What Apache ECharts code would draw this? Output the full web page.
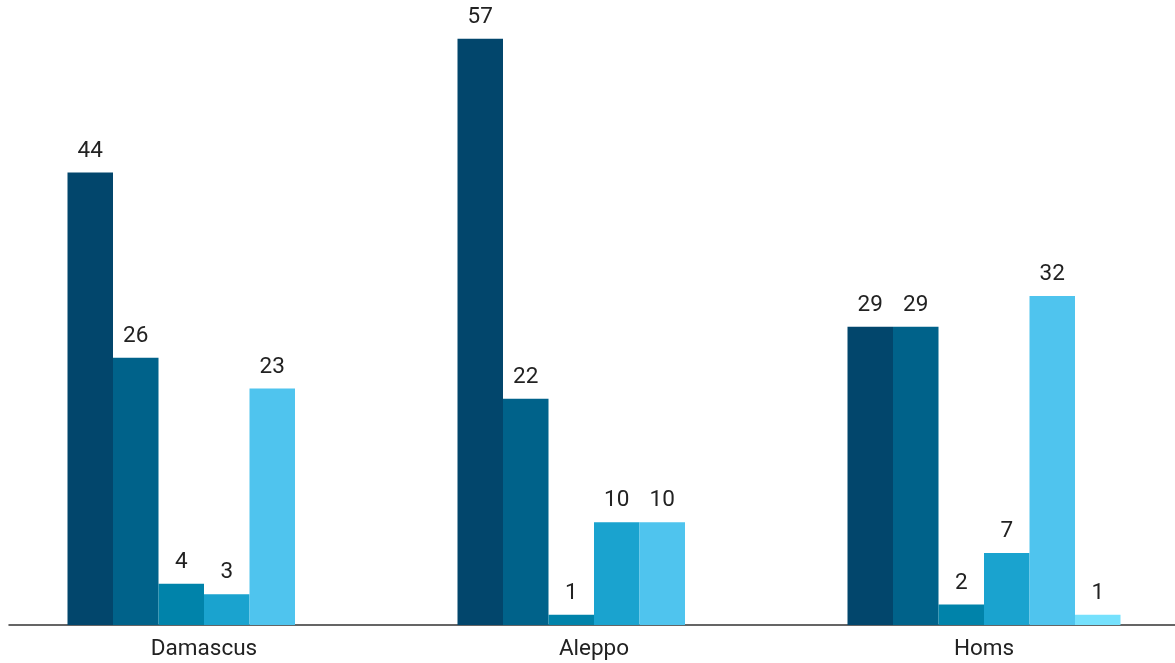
<!DOCTYPE html>
<html><head><meta charset="utf-8">
<script src="https://cdn.jsdelivr.net/npm/echarts@6/dist/echarts.min.js"></script>
<style>html,body{margin:0;padding:0;background:#fff}#c{width:1175px;height:663px}</style>
</head><body><div id="c"></div>
<script>
const categories = ['Damascus', 'Aleppo', 'Homs'];
const s1 = [44, 57, 29];
const s2 = [26, 22, 29];
const s3 = [4, 1, 2];
const s4 = [3, 10, 7];
const s5 = [23, 10, 32];
const s6 = [null, null, 1];
const seriesData = [s1, s2, s3, s4, s5, s6];
const colors = ['#02466c', '#00628a', '#0083aa', '#1aa3cf', '#4fc4ee', '#75e1fd'];

const chart = echarts.init(document.getElementById('c'));
chart.setOption({
  animation: false,
  grid: { left: 9, right: -4, top: 8, bottom: 38, outerBoundsMode: 'none' },
  xAxis: {
    type: 'category', data: categories,
    axisLine: { lineStyle: { color: '#333', width: 1.5 } },
    axisTick: { show: false },
    axisLabel: { color: '#222', fontSize: 22.5, fontFamily: 'Roboto', margin: 13 }
  },
  yAxis: { type: 'value', min: 0, max: 60, show: false, splitLine: { show: false } },
  series: seriesData.map((d, i) => ({
    type: 'bar', data: d, barGap: '0%', barCategoryGap: '30%',
    itemStyle: { color: colors[i] },
    label: { show: true, position: 'top', distance: 10, color: '#222', fontSize: 22.5, fontFamily: 'Roboto' }
  }))
});
</script></body></html>
